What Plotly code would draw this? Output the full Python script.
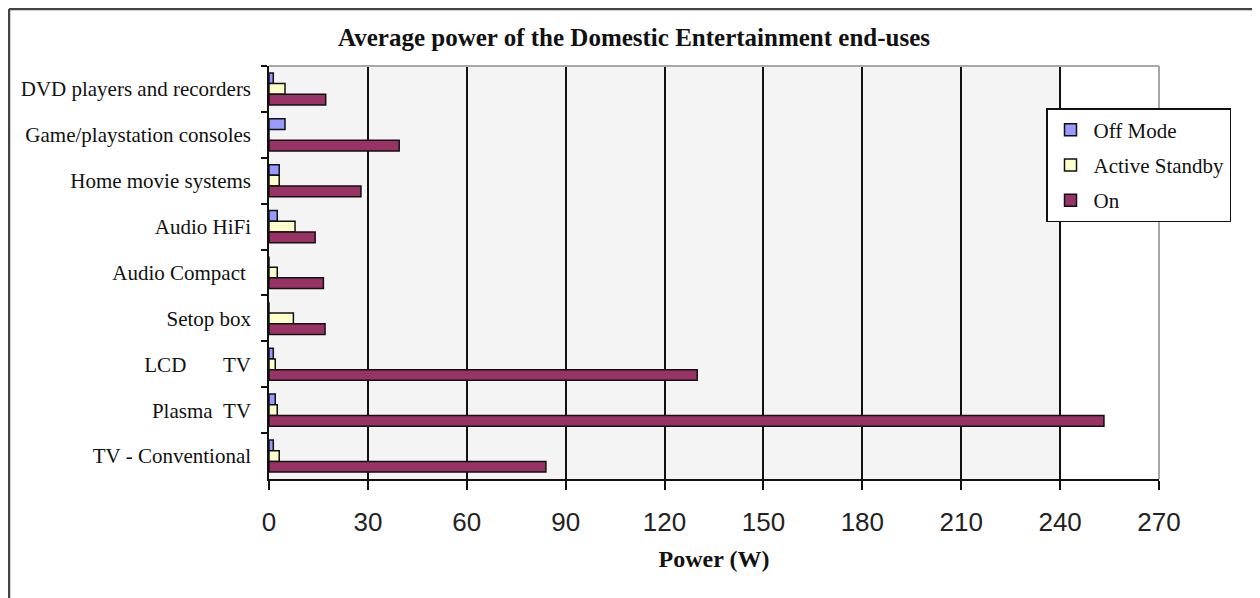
import plotly.graph_objects as go

categories = [
    "DVD players and recorders",
    "Game/playstation consoles",
    "Home movie systems",
    "Audio HiFi",
    "Audio Compact ",
    "Setop box",
    "LCD\u00a0\u00a0\u00a0\u00a0\u00a0\u00a0\u00a0TV",
    "Plasma\u00a0\u00a0TV",
    "TV - Conventional",
]
off_mode = [1.3, 4.85, 3.1, 2.5, 0, 0, 1.3, 1.9, 1.3]
active_standby = [4.85, 0, 3.1, 7.9, 2.5, 7.4, 1.9, 2.5, 3.1]
on_mode = [17.2, 39.5, 27.9, 14.0, 16.5, 17.0, 129.9, 253.3, 84.0]
x_ticks = [0, 30, 60, 90, 120, 150, 180, 210, 240, 270]

series = [
    ("Off Mode", off_mode, "#9999FF"),
    ("Active Standby", active_standby, "#FFFFCC"),
    ("On", on_mode, "#993366"),
]

# page is offset by the 8px body margin
OFF = 8
W, H = 1260 - OFF, 598 - OFF
L, R, T, B = 269, 1159, 66, 479  # plot area in page pixels


def px(x):
    return (x - L) / (R - L)


def py(y):
    return (B - y) / (B - T)


serif = "Liberation Serif, Times New Roman, serif"
sans = "Liberation Sans, Arial, sans-serif"

fig = go.Figure()
for name, vals, col in series:
    fig.add_trace(go.Bar(
        y=categories, x=vals, name=name, orientation="h",
        marker=dict(color=col, line=dict(color="#111111", width=1.5)),
        legendgroup=name,
    ))

fig.update_layout(
    width=W, height=H,
    margin=dict(l=L - OFF, r=1260 - R, t=T - OFF, b=598 - B),
    paper_bgcolor="white", plot_bgcolor="white",
    barmode="group", bargap=0.3, bargroupgap=0,
    title=dict(text="<b>Average power of the Domestic Entertainment end-uses</b>",
               x=(634 - OFF) / W, xref="container", xanchor="center",
               y=1 - (37 - OFF) / H, yref="container", yanchor="middle",
               font=dict(family=serif, size=25, color="#111111")),
    legend=dict(x=px(1046), y=py(108), xanchor="left", yanchor="top",
                bgcolor="white", bordercolor="#111111", borderwidth=1.5,
                font=dict(family=serif, size=21, color="#111111"),
                tracegroupgap=5, traceorder="grouped", itemwidth=36),
    font=dict(family=serif, color="#111111"),
)

fig.update_xaxes(
    range=[0, 270], tickvals=x_ticks, ticktext=[str(v) for v in x_ticks],
    showgrid=True, gridcolor="#111111", gridwidth=1.5,
    showline=True, linecolor="#111111", linewidth=1.5, zeroline=False,
    ticks="outside", ticklen=9, tickwidth=1.5, tickcolor="#111111",
    ticklabelstandoff=10,
    tickfont=dict(family=sans, size=26, color="#222222"),
    title=dict(text="<b>Power (W)</b>", standoff=14,
               font=dict(family=serif, size=24, color="#111111")),
)
fig.update_yaxes(
    autorange="reversed", showgrid=False,
    showline=True, linecolor="#111111", linewidth=1.5,
    ticks="outside", tickson="boundaries", ticklen=6, tickwidth=1.5, tickcolor="#111111",
    ticklabelstandoff=12,
    tickfont=dict(family=serif, size=21, color="#111111"),
)

shapes = [
    # light grey plot background (0-240), below gridlines
    dict(type="rect", xref="x", yref="paper", x0=0, x1=240, y0=0, y1=1,
         fillcolor="#F4F4F4", line=dict(width=0), layer="below"),
    # grey top and right borders of the plot area
    dict(type="line", xref="paper", yref="paper", x0=0, x1=1, y0=1, y1=1,
         line=dict(color="#A8A8A8", width=2), layer="above"),
    dict(type="line", xref="paper", yref="paper", x0=1, x1=1, y0=0, y1=1,
         line=dict(color="#A8A8A8", width=2), layer="above"),
    # outer chart frame (top and left edges visible)
    dict(type="line", xref="paper", yref="paper", x0=px(9), x1=px(1275), y0=py(9), y1=py(9),
         line=dict(color="#444444", width=2.5), layer="above"),
    dict(type="line", xref="paper", yref="paper", x0=px(9), x1=px(9), y0=py(9), y1=py(620),
         line=dict(color="#444444", width=2.5), layer="above"),
]
fig.update_layout(shapes=shapes)

fig.write_html("out.html")
